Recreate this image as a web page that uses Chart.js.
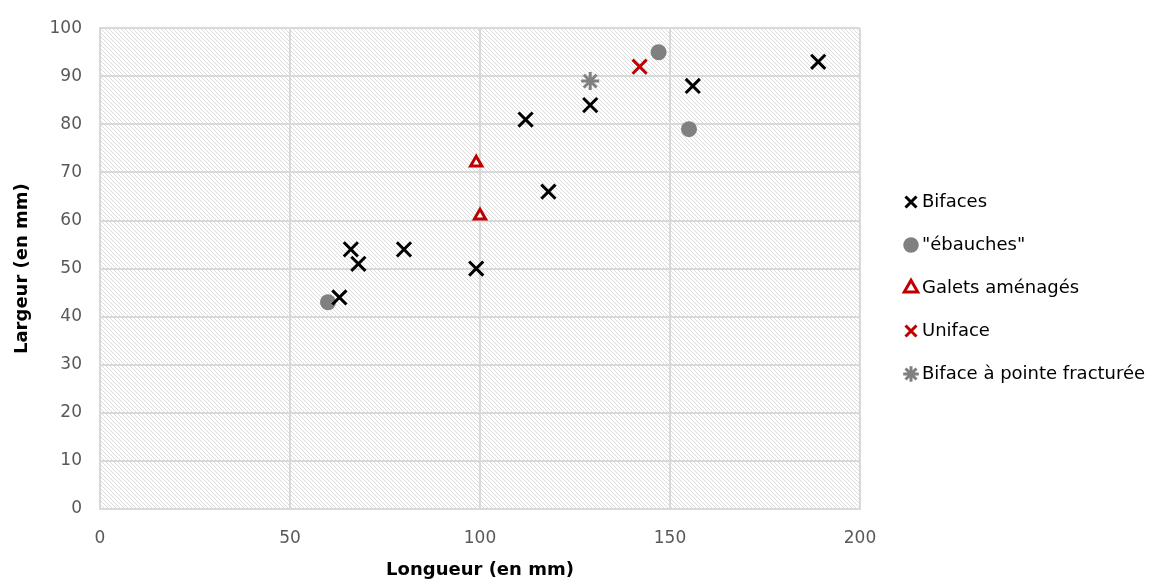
<!DOCTYPE html>
<html>
<head>
<meta charset="utf-8">
<script src="https://cdn.jsdelivr.net/npm/chart.js@4.4.1/dist/chart.umd.min.js"></script>
<style>
  html,body{margin:0;padding:0;background:#fff;}
  #wrap{width:1164px;height:585px;position:relative;}
</style>
</head>
<body>
<div id="wrap"><canvas id="c" width="1164" height="585"></canvas></div>
<script>
// values (mm)
const bifacesX = [63, 66, 68, 80, 99, 112, 118, 129, 156, 189];
const bifacesY = [44, 54, 51, 54, 50, 81, 66, 84, 88, 93];
const ebauchesX = [60, 147, 155];
const ebauchesY = [43, 95, 79];
const galetsX = [99, 100];
const galetsY = [72, 61];
const unifaceX = [142];
const unifaceY = [92];
const fractX = [129];
const fractY = [89];

const pts = (xs, ys) => xs.map((x, i) => ({x, y: ys[i]}));
const FONT = "'DejaVu Sans', sans-serif";
const LEGEND_W = 304;   // room kept on the right for the legend
const LEGEND_DX = 24;
const LEGEND_DY = -18;

// diagonal hatch for the plot area
const pc = document.createElement('canvas'); pc.width = 4; pc.height = 4;
const p = pc.getContext('2d');
p.strokeStyle = '#dcdcdc'; p.lineWidth = 1;
p.beginPath();
p.moveTo(0, 0); p.lineTo(4, 4);
p.moveTo(-2, 2); p.lineTo(2, 6);
p.moveTo(2, -2); p.lineTo(6, 2);
p.stroke();

const hatch = {
  id: 'hatch',
  beforeDraw(chart){
    const {ctx, chartArea: a} = chart;
    ctx.save();
    ctx.fillStyle = ctx.createPattern(pc, 'repeat');
    ctx.fillRect(a.left, a.top, a.right - a.left, a.bottom - a.top);
    ctx.restore();
  }
};

const chart = new Chart(document.getElementById('c'), {
  type: 'scatter',
  data: {
    datasets: [
      {label: 'Bifaces', data: pts(bifacesX, bifacesY), pointStyle: 'crossRot', pointRadius: 10, borderColor: '#000', backgroundColor: '#000', borderWidth: 3},
      {label: '"ébauches"', data: pts(ebauchesX, ebauchesY), pointStyle: 'circle', pointRadius: 8, borderColor: '#808080', backgroundColor: '#808080', borderWidth: 0},
      {label: 'Galets aménagés', data: pts(galetsX, galetsY), pointStyle: 'triangle', pointRadius: 6.5, borderColor: '#c00000', backgroundColor: '#fff', borderWidth: 3},
      {label: 'Uniface', data: pts(unifaceX, unifaceY), pointStyle: 'crossRot', pointRadius: 10, borderColor: '#c00000', backgroundColor: '#c00000', borderWidth: 3},
      {label: 'Biface à pointe fracturée', data: pts(fractX, fractY), pointStyle: 'star', pointRadius: 9, borderColor: '#808080', backgroundColor: '#808080', borderWidth: 3}
    ]
  },
  options: {
    responsive: false,
    animation: false,
    layout: {padding: {top: 27, right: 0, left: 0, bottom: 0}},
    scales: {
      x: {
        min: 0, max: 200,
        ticks: {stepSize: 50, color: '#595959', font: {family: FONT, size: 17}, padding: 19},
        grid: {color: '#d9d9d9', lineWidth: 2, drawTicks: false},
        border: {color: '#d9d9d9', width: 2},
        title: {display: true, text: 'Longueur (en mm)', color: '#000', font: {family: FONT, size: 18, weight: 'bold'}, padding: {top: 14}},
        afterFit(s){ s.height = 76; }
      },
      y: {
        min: 0, max: 100,
        ticks: {stepSize: 10, color: '#595959', font: {family: FONT, size: 17}, padding: 18},
        grid: {color: '#d9d9d9', lineWidth: 2, drawTicks: false},
        border: {color: '#d9d9d9', width: 2},
        title: {display: true, text: 'Largeur (en mm)', color: '#000', font: {family: FONT, size: 18, weight: 'bold'}, padding: {top: 12, bottom: 0}},
        afterFit(s){ s.width = 100; }
      }
    },
    plugins: {
      legend: {
        position: 'right',
        labels: {usePointStyle: true, boxHeight: 11, boxWidth: 4, padding: 25, color: '#000', font: {family: FONT, size: 18}}
      },
      tooltip: {enabled: false}
    }
  },
  plugins: [hatch]
});

// legend: fixed width, items nudged to where the reference has them
const lg = chart.legend;
const fit0 = lg.fit.bind(lg);
lg.fit = function(){ fit0(); this.width = LEGEND_W; };
const draw0 = lg.draw.bind(lg);
lg.draw = function(){
  const l = this.left, t = this.top, b = this.bottom;
  this.left = l + LEGEND_DX; this.top = t + LEGEND_DY; this.bottom = b + LEGEND_DY;
  draw0();
  this.left = l; this.top = t; this.bottom = b;
};
chart.update();
</script>
</body>
</html>
